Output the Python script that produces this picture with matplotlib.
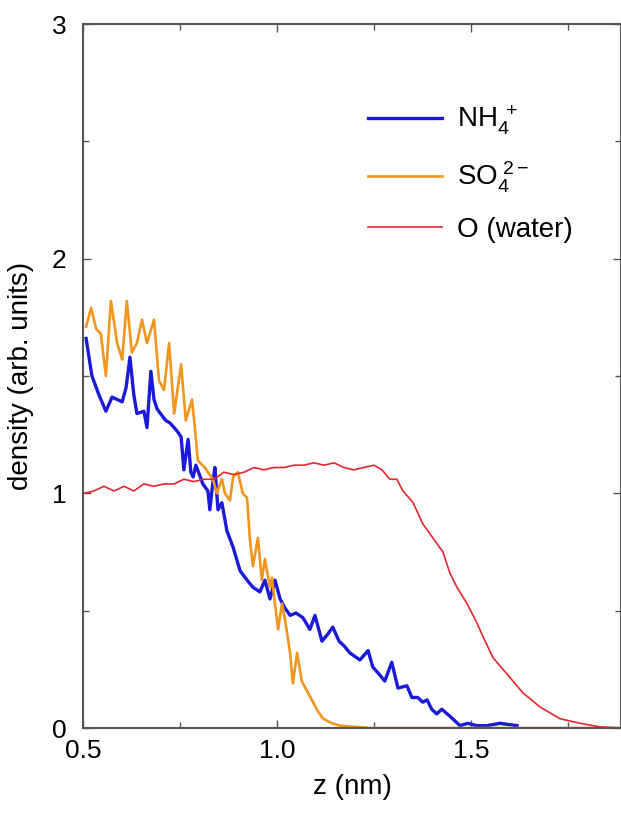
import numpy as np
import matplotlib
matplotlib.use("Agg")
import matplotlib.pyplot as plt

plt.rcParams['font.family'] = ['Liberation Sans', 'DejaVu Sans']
plt.rcParams['mathtext.fontset'] = 'custom'
plt.rcParams['mathtext.rm'] = 'Liberation Sans'
plt.rcParams['mathtext.it'] = 'Liberation Sans'

# NH4+ density profile
z_nh4 = [0.508, 0.523, 0.541, 0.559, 0.575, 0.588, 0.601, 0.611, 0.621, 0.631, 0.639,
         0.657, 0.665, 0.675, 0.683, 0.691, 0.704, 0.714, 0.724, 0.735, 0.745, 0.753,
         0.760, 0.771, 0.778, 0.784, 0.791, 0.809, 0.822, 0.827, 0.835, 0.840, 0.848,
         0.858, 0.871, 0.887, 0.905, 0.923, 0.938, 0.956, 0.969, 0.982, 0.995, 1.008,
         1.021, 1.034, 1.049, 1.067, 1.085, 1.098, 1.116, 1.131, 1.144, 1.160, 1.173,
         1.188, 1.214, 1.235, 1.247, 1.263, 1.278, 1.296, 1.312, 1.335, 1.348, 1.363,
         1.376, 1.387, 1.399, 1.412, 1.425, 1.446, 1.472, 1.492, 1.515, 1.541, 1.575,
         1.619]
d_nh4 = [1.66, 1.50, 1.42, 1.35, 1.41, 1.40, 1.39, 1.45, 1.58, 1.42, 1.34,
         1.35, 1.28, 1.52, 1.40, 1.36, 1.33, 1.31, 1.30, 1.28, 1.26, 1.24,
         1.10, 1.23, 1.09, 1.07, 1.12, 1.04, 1.01, 0.93, 1.05, 1.11, 0.93,
         0.96, 0.84, 0.77, 0.67, 0.63, 0.60, 0.58, 0.63, 0.55, 0.63, 0.55,
         0.51, 0.48, 0.49, 0.47, 0.42, 0.48, 0.37, 0.40, 0.43, 0.37, 0.35,
         0.32, 0.29, 0.33, 0.26, 0.23, 0.20, 0.28, 0.17, 0.18, 0.13, 0.13,
         0.11, 0.12, 0.08, 0.06, 0.08, 0.05, 0.01, 0.02, 0.01, 0.01, 0.02,
         0.01]

# SO4 2- density profile
z_so4 = [0.508, 0.521, 0.534, 0.546, 0.559, 0.572, 0.588, 0.601, 0.613, 0.626, 0.639,
         0.652, 0.665, 0.683, 0.696, 0.709, 0.722, 0.735, 0.753, 0.765, 0.781, 0.789,
         0.796, 0.814, 0.822, 0.835, 0.845, 0.858, 0.866, 0.879, 0.887, 0.899, 0.912,
         0.923, 0.930, 0.938, 0.951, 0.961, 0.969, 0.982, 0.987, 1.003, 1.013, 1.021,
         1.034, 1.041, 1.052, 1.064, 1.080, 1.093, 1.106, 1.119, 1.142, 1.162, 1.240,
         1.446, 1.704, 1.887]
d_so4 = [1.71, 1.79, 1.70, 1.68, 1.50, 1.82, 1.64, 1.57, 1.82, 1.60, 1.64,
         1.74, 1.64, 1.74, 1.48, 1.44, 1.64, 1.34, 1.55, 1.31, 1.40, 1.27,
         1.14, 1.11, 1.09, 1.06, 1.00, 1.06, 1.00, 0.97, 1.07, 1.09, 1.00,
         0.98, 0.81, 0.69, 0.81, 0.63, 0.72, 0.60, 0.64, 0.42, 0.53, 0.46,
         0.32, 0.19, 0.32, 0.20, 0.15, 0.11, 0.07, 0.04, 0.02, 0.01, 0.00,
         0.00, 0.00, 0.00]

# O (water) density profile
z_wat = [0.503, 0.528, 0.554, 0.580, 0.606, 0.631, 0.657, 0.683, 0.709, 0.735, 0.760,
         0.786, 0.812, 0.838, 0.863, 0.889, 0.915, 0.941, 0.966, 0.992, 1.018, 1.044,
         1.070, 1.095, 1.121, 1.147, 1.173, 1.198, 1.224, 1.250, 1.271, 1.291, 1.309,
         1.325, 1.351, 1.376, 1.402, 1.428, 1.446, 1.464, 1.490, 1.515, 1.531, 1.557,
         1.593, 1.634, 1.678, 1.729, 1.781, 1.832, 1.887]
d_wat = [1.00, 1.01, 1.03, 1.01, 1.03, 1.01, 1.04, 1.03, 1.04, 1.04, 1.06,
         1.05, 1.06, 1.06, 1.09, 1.08, 1.09, 1.11, 1.10, 1.11, 1.11, 1.12,
         1.12, 1.13, 1.12, 1.13, 1.11, 1.10, 1.11, 1.12, 1.10, 1.06, 1.06,
         1.01, 0.96, 0.87, 0.81, 0.75, 0.66, 0.60, 0.53, 0.45, 0.39, 0.30,
         0.23, 0.15, 0.09, 0.04, 0.02, 0.005, 0.00]

labels = [r'NH$_4^{\ +}$', r'SO$_4^{\ 2-}$', 'O (water)']
colors = ['#1a1ad8', '#f0961e', '#e4262e']

fig = plt.figure(figsize=(6.21, 8.14), dpi=100)
ax = fig.add_axes([83 / 621, 86 / 814, 538 / 621, 704 / 814])

ax.plot(z_nh4, d_nh4, color=colors[0], lw=2.4, label=labels[0])
ax.plot(z_so4, d_so4, color=colors[1], lw=1.9, label=labels[1])
ax.plot(z_wat, d_wat, color=colors[2], lw=1.2, label=labels[2])

ax.set_xlim(0.5, 1.887)
ax.set_ylim(0, 3)
ax.set_xticks([0.5, 1.0, 1.5])
ax.set_xticklabels(['0.5', '1.0', '1.5'])
ax.set_xticks([0.75, 1.25, 1.75], minor=True)
ax.set_yticks([0, 1, 2, 3])
ax.set_yticks([0.5, 1.5, 2.5], minor=True)
ax.tick_params(which='both', direction='in', top=True, right=True,
               color='#555555', labelsize=19)
ax.tick_params(axis='x', which='major', pad=8)
ax.tick_params(axis='y', which='major', pad=12)
ax.tick_params(which='major', length=6, width=1)
ax.tick_params(which='minor', length=4, width=1)
for s in ax.spines.values():
    s.set_color('#555555')
    s.set_linewidth(1.5)

ax.set_xlabel('z (nm)', fontsize=20)
ax.xaxis.set_label_coords(0.5, -0.066)
ax.set_ylabel('density (arb. units)', fontsize=20)
ax.yaxis.set_label_coords(-0.091, 0.5)

ax.legend(loc='upper left', bbox_to_anchor=(0.530, 0.886), frameon=False,
          fontsize=20, handlelength=2.65, handletextpad=0.55, labelspacing=0.8,
          borderpad=0, borderaxespad=0)

fig.savefig('out.png', dpi=100)
